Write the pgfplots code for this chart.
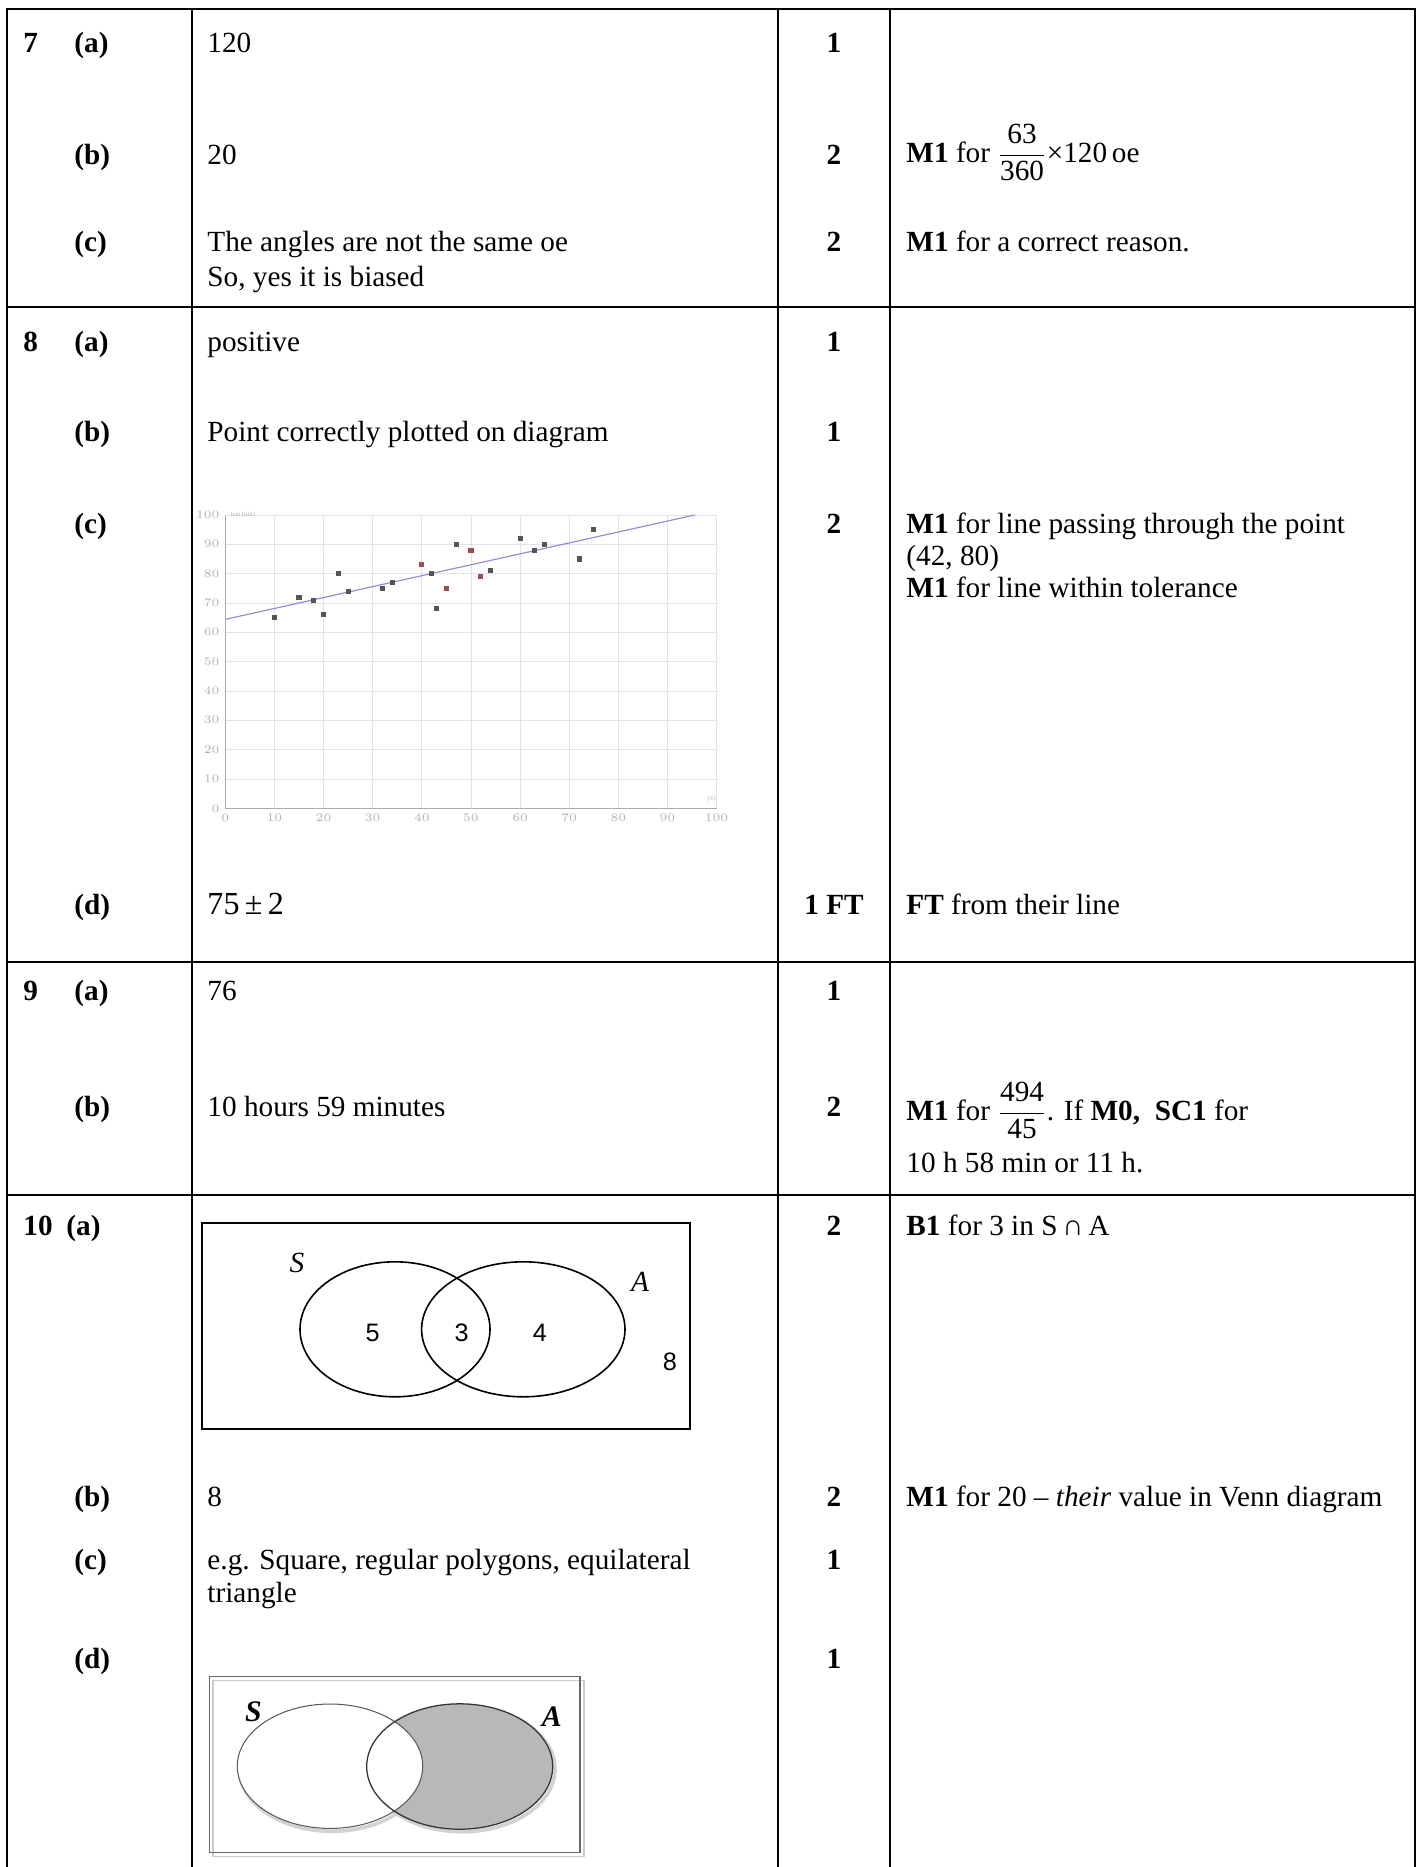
\documentclass[border=0pt]{standalone}
\usepackage{pgfplots}
\pgfplotsset{compat=1.18}
\usepackage{amsmath}
\usepackage{fontspec}
\setmainfont{Liberation Serif}
\newfontfamily\arial{Liberation Sans}
\definecolor{ptgray}{RGB}{85,85,85}
\definecolor{ptred}{RGB}{150,80,80}
\definecolor{fitline}{RGB}{140,140,220}
\definecolor{vennfill}{RGB}{184,184,184}
\begin{document}
\begin{tikzpicture}[x=0.436pt,y=-0.436pt,
  t/.style={anchor=base west,inner sep=0pt,font=\fontsize{12.75}{15}\selectfont},
  b/.style={anchor=base west,inner sep=0pt,font=\fontsize{12.75}{15}\selectfont\bfseries},
  mk/.style={anchor=base,inner sep=0pt,font=\fontsize{12.75}{15}\selectfont\bfseries}]
\useasboundingbox (0,0) rectangle (1418,1867);
\fill[white] (0,0) rectangle (1418,1867);

% table rules
\begin{scope}[line width=0.9pt]
\draw (7,1867) -- (7,9) -- (1415,9) -- (1415,1867);
\draw (192,9) -- (192,1867);
\draw (778,9) -- (778,1867);
\draw (890,9) -- (890,1867);
\draw (7,307) -- (1415,307);
\draw (7,962) -- (1415,962);
\draw (7,1195) -- (1415,1195);
\end{scope}

% question 7
\node[b] at (23,52) {7};
\node[b] at (74,52) {(a)};
\node[t] at (207,52) {120};
\node[mk] at (834,52) {1};
\node[b] at (74,164) {(b)};
\node[t] at (207,164) {20};
\node[mk] at (834,164) {2};
\node[t] at (906,162) {\textbf{M1} for $\dfrac{\text{63}}{\text{360}}$×120\,oe};
\node[b] at (74,251) {(c)};
\node[t] at (207,251) {The angles are not the same oe};
\node[t] at (207,286) {So, yes it is biased};
\node[mk] at (834,251) {2};
\node[t] at (906,251) {\textbf{M1} for a correct reason.};

% question 8
\node[b] at (23,351) {8};
\node[b] at (74,351) {(a)};
\node[t] at (207,351) {positive};
\node[mk] at (834,351) {1};
\node[b] at (74,441) {(b)};
\node[t] at (207,441) {Point correctly plotted on diagram};
\node[mk] at (834,441) {1};
\node[b] at (74,533) {(c)};
\node[mk] at (834,533) {2};
\node[t] at (906,533) {\textbf{M1} for line passing through the point};
\node[t] at (906,565) {(42, 80)};
\node[t] at (906,597) {\textbf{M1} for line within tolerance};
\node[b] at (74,914) {(d)};
\node[t,font=\fontsize{14}{16}\selectfont] at (207,914) {75\,±\,2};
\node[mk] at (834,914) {1 FT};
\node[t] at (906,914) {\textbf{FT} from their line};

% question 9
\node[b] at (23,1000) {9};
\node[b] at (74,1000) {(a)};
\node[t] at (207,1000) {76};
\node[mk] at (834,1000) {1};
\node[b] at (74,1116) {(b)};
\node[t] at (207,1116) {10 hours 59 minutes};
\node[mk] at (834,1116) {2};
\node[t] at (906,1120) {\textbf{M1} for $\dfrac{\text{494}}{\text{45}}$. If \textbf{M0,\ \ SC1} for};
\node[t] at (906,1172) {10 h 58 min or 11 h.};

% question 10
\node[b] at (23,1235) {10};
\node[b] at (66,1235) {(a)};
\node[mk] at (834,1235) {2};
\node[t] at (906,1235) {\textbf{B1} for 3 in S\,∩\,A};
\node[b] at (74,1506) {(b)};
\node[t] at (207,1506) {8};
\node[mk] at (834,1506) {2};
\node[t] at (906,1506) {\textbf{M1} for 20 – \textit{their} value in Venn diagram};
\node[b] at (74,1569) {(c)};
\node[t] at (207,1569) {e.g. Square, regular polygons, equilateral};
\node[t] at (207,1602) {triangle};
\node[mk] at (834,1569) {1};
\node[b] at (74,1668) {(d)};
\node[mk] at (834,1668) {1};

% Venn diagram 10(a)
\draw[line width=0.8pt] (201.7,1223.3) rectangle (690,1429);
\draw[line width=0.7pt] (395,1329.3) ellipse [x radius=95, y radius=67.5];
\draw[line width=0.7pt] (523.3,1329.3) ellipse [x radius=101.7, y radius=67.5];
\node[inner sep=0pt,font=\fontsize{12.75}{15}\selectfont\itshape] at (297,1263) {S};
\node[inner sep=0pt,font=\fontsize{12.75}{15}\selectfont\itshape] at (640,1282) {A};
\node[inner sep=0pt,font=\arial\fontsize{11}{13}\selectfont] at (372.7,1333) {5};
\node[inner sep=0pt,font=\arial\fontsize{11}{13}\selectfont] at (461.7,1333) {3};
\node[inner sep=0pt,font=\arial\fontsize{11}{13}\selectfont] at (540,1333) {4};
\node[inner sep=0pt,font=\arial\fontsize{11}{13}\selectfont] at (670,1362) {8};

% Venn diagram 10(d)
\draw[gray!40, line width=0.6pt] (213,1680.5) rectangle (584,1856.5);
\draw[gray!80!black, line width=0.6pt] (209.3,1676.7) rectangle (580,1852.7);
\draw[gray!35, line width=1.6pt] (332,1769) ellipse [x radius=92.7, y radius=62.2];
\draw[gray!35, line width=1.6pt] (462,1769) ellipse [x radius=93, y radius=62.7];
\begin{scope}
\clip (459.7,1766.5) ellipse [x radius=93, y radius=62.7];
\fill[vennfill, even odd rule] (459.7,1766.5) ellipse [x radius=93, y radius=62.7]
  (330,1766.2) ellipse [x radius=92.7, y radius=62.2];
\end{scope}
\fill[white] (330,1766.2) ellipse [x radius=92.7, y radius=62.2];
\draw[gray!70!black, line width=0.45pt] (330,1766.2) ellipse [x radius=92.7, y radius=62.2];
\draw[gray!40!black, line width=0.55pt] (459.7,1766.5) ellipse [x radius=93, y radius=62.7];
\node[inner sep=0pt,font=\fontsize{13}{15}\selectfont\bfseries\itshape] at (253.3,1711.7) {S};
\node[inner sep=0pt,font=\fontsize{13}{15}\selectfont\bfseries\itshape] at (551.7,1716.7) {A};

% scatter graph 8(c)
\begin{scope}[x=1pt,y=1pt]
\begin{axis}[
    at={(98.23pt,-352.42pt)}, anchor=origin,
    scale only axis,
    width=214.2pt, height=127.9pt,
    xmin=0, xmax=100, ymin=0, ymax=100,
    xtick={0,10,...,100}, ytick={0,10,...,100},
    grid=major,
    major grid style={gray!22, line width=0.35pt},
    axis lines*=left,
    axis line style={gray!65, line width=0.6pt, -},
    major tick length=0pt,
    ticklabel style={font=\fontsize{3.2}{3.6}\selectfont, text=gray!60},
    xticklabel style={yshift=1pt},
    yticklabel style={xshift=1pt},
    clip=false,
]
\addplot[fitline, line width=0.5pt] coordinates {(0,64.4) (95.6,100)};
\addplot[only marks, mark=square*, mark size=0.9pt, ptgray] coordinates {
  (10,65) (15,72) (18,71) (20,66) (23,80) (25,74) (32,75) (34,77)
  (42,80) (43,68) (47,90) (54,81) (60,92) (63,88) (65,90) (72,85) (75,95)};
\addplot[only marks, mark=square*, mark size=0.9pt, ptred] coordinates {
  (40,83) (45,75) (50,88) (52,79)};
\node[anchor=west, inner sep=0pt, font=\fontsize{3}{3.4}\selectfont, text=gray!60]
  at (axis cs:1,100) {test (out)};
\node[anchor=south, inner sep=0pt, font=\fontsize{3}{3.4}\selectfont, text=gray!60]
  at (axis cs:99,2) {(x)};
\end{axis}
\end{scope}
\end{tikzpicture}
\end{document}
